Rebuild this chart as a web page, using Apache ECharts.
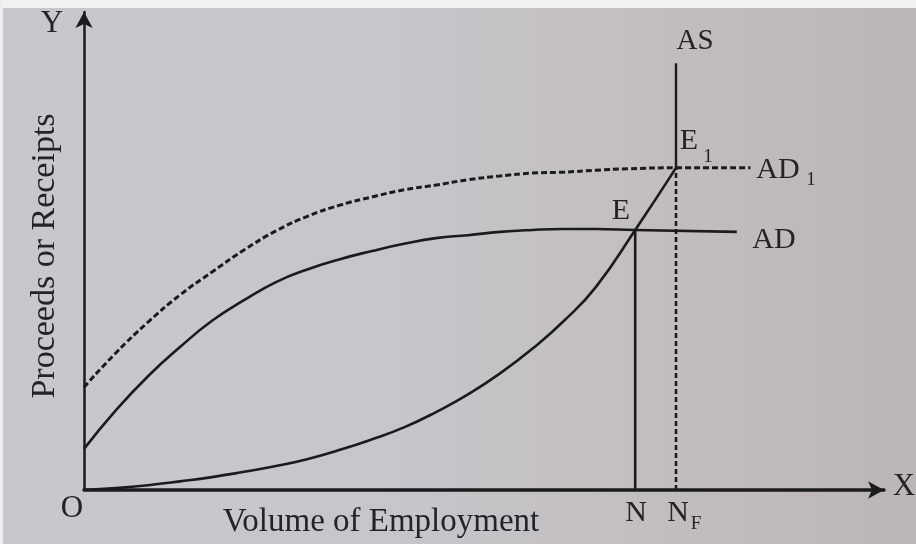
<!DOCTYPE html>
<html>
<head>
<meta charset="utf-8">
<script src="https://cdn.jsdelivr.net/npm/echarts@6/dist/echarts.min.js"></script>
<style>
html,body{margin:0;padding:0;background:#c6c6ca;}
#chart{width:916px;height:544px;}
</style>
</head>
<body>
<div id="chart"></div>
<script>
// ---- data (employment units on x, proceeds on y, both 0..100) ----
const adX  = [0, 4, 8, 12, 16, 20, 24, 28, 32, 36, 40, 44, 48, 52, 56, 60, 64, 68.9, 81.6];
const adY  = [8.6, 16.7, 23.8, 29.9, 35.4, 39.7, 43.5, 46.2, 48.3, 50.0, 51.5, 52.7, 53.3, 54.0, 54.4, 54.6, 54.6, 54.4, 54.0];
const ad1X = [0, 4, 8, 12, 16, 20, 24, 28, 32, 36, 40, 44, 48, 52, 56, 60, 64, 68, 74, 83.3];
const ad1Y = [21.5, 28.7, 35.1, 40.8, 45.6, 50.2, 54.2, 57.3, 59.6, 61.3, 62.8, 63.8, 64.9, 65.7, 66.3, 66.5, 66.9, 67.2, 67.4, 67.4];
const asX  = [0, 4, 8, 12, 16, 20, 24, 28, 32, 36, 40, 44, 48, 52, 56, 60, 64, 68.9, 74];
const asY  = [0, 0.4, 1.0, 1.8, 2.7, 3.8, 5.0, 6.5, 8.4, 10.6, 13.1, 16.3, 20.0, 24.4, 29.5, 35.4, 42.5, 54.4, 67.4];
const asVertX = [74, 74];
const asVertY = [67.4, 89.3];
const nX = 68.9, nY = 54.4;     // equilibrium E
const nfX = 74, nfY = 67.4;     // full-employment E1

const zip = (xs, ys) => xs.map((x, i) => [x, ys[i]]);

const ink = '#1b1b1e';
const txt = '#242428';
const serif = '"Liberation Serif", "DejaVu Serif", serif';

const chart = echarts.init(document.getElementById('chart'), null, {renderer: 'canvas'});

function label(text, x, y, size, extra) {
  return Object.assign({
    type: 'text', z: 10,
    style: {text: text, x: x, y: y, fill: txt, font: size + 'px ' + serif,
            textAlign: 'center', textVerticalAlign: 'middle'}
  }, extra || {});
}

const option = {
  backgroundColor: {
    type: 'linear', x: 0, y: 0, x2: 1, y2: 0,
    colorStops: [
      {offset: 0, color: '#c8c8cc'},
      {offset: 0.45, color: '#c7c5c9'},
      {offset: 1, color: '#bcb5b6'}
    ]
  },
  animation: false,
  grid: {left: 84, top: 12, width: 800, height: 478, containLabel: false},
  xAxis: {
    type: 'value', min: 0, max: 100,
    axisLine: {show: true, lineStyle: {color: ink, width: 3.5},
               symbol: ['none', 'arrow'], symbolSize: [13, 16]},
    axisTick: {show: false}, axisLabel: {show: false}, splitLine: {show: false}
  },
  yAxis: {
    type: 'value', min: 0, max: 100,
    axisLine: {show: true, lineStyle: {color: ink, width: 2.5},
               symbol: ['none', 'arrow'], symbolSize: [13, 16]},
    axisTick: {show: false}, axisLabel: {show: false}, splitLine: {show: false}
  },
  series: [
    {
      name: 'AD', type: 'line', data: zip(adX, adY), smooth: 0.5,
      showSymbol: false, lineStyle: {color: ink, width: 2.6}, z: 3
    },
    {
      name: 'AD1', type: 'line', data: zip(ad1X, ad1Y), smooth: 0.5,
      showSymbol: false, lineStyle: {color: ink, width: 3, type: [6, 3]}, z: 3
    },
    {
      name: 'AS', type: 'line', data: zip(asX, asY), smooth: 0.5,
      showSymbol: false, lineStyle: {color: ink, width: 2.6}, z: 3
    },
    {
      name: 'AS vertical', type: 'line', data: zip(asVertX, asVertY),
      showSymbol: false, lineStyle: {color: ink, width: 2.4}, z: 3
    },
    {
      name: 'N', type: 'line', data: [[nX, 0], [nX, nY]],
      showSymbol: false, lineStyle: {color: ink, width: 2.6}, z: 3
    },
    {
      name: 'NF', type: 'line', data: [[nfX, 0], [nfX, nfY]],
      showSymbol: false, lineStyle: {color: ink, width: 2.6, type: [5, 3]}, z: 3
    }
  ],
  graphic: [
    {type: 'rect', z: 0, shape: {x: 0, y: 0, width: 916, height: 8}, style: {fill: '#f2f2f2'}},
    {type: 'rect', z: 0, shape: {x: 0, y: 0, width: 3, height: 544}, style: {fill: '#eeeeee'}},
    label('Y', 52, 24, 31),
    label('X', 904, 487, 31),
    label('O', 72, 509, 31),
    label('AS', 695, 41, 29),
    label('E', 689, 141, 30),
    label('1', 708, 157, 19),
    label('AD', 778, 170, 30),
    label('1', 811, 180, 19),
    label('E', 621, 211, 30),
    label('AD', 774, 240, 30),
    label('N', 636, 513, 30),
    label('N', 678, 513, 30),
    label('F', 696, 524, 19),
    label('Volume of Employment', 381, 522, 33),
    label('Proceeds or Receipts', 45, 256, 34, {rotation: Math.PI / 2, x: 45, y: 256,
      style: {text: 'Proceeds or Receipts', x: 0, y: 0, fill: txt, font: '34px ' + serif,
              textAlign: 'center', textVerticalAlign: 'middle'}})
  ]
};
chart.setOption(option);
</script>
</body>
</html>
